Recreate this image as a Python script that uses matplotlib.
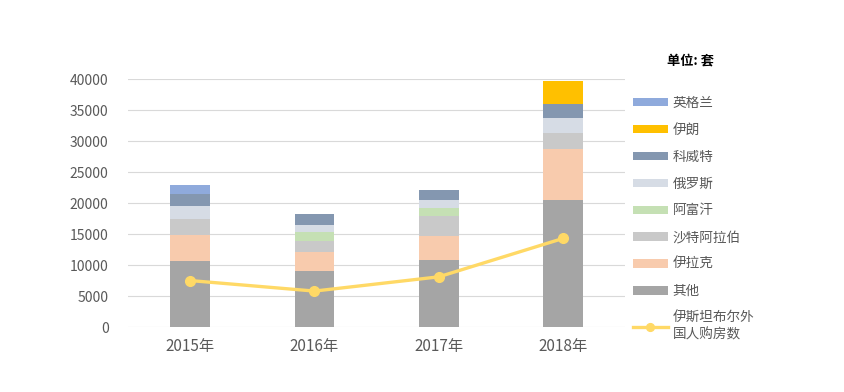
import matplotlib
matplotlib.use("Agg")
import matplotlib.pyplot as plt
import numpy as np

plt.rcParams['font.family'] = ['Noto Sans CJK SC', 'DejaVu Sans']

years = ["2015年", "2016年", "2017年", "2018年"]
other = [10700, 9000, 10800, 20500]
iraq = [4100, 3150, 3900, 8300]
saudi = [2700, 1800, 3250, 2600]
afghan = [0, 1350, 1250, 0]
russia = [2050, 1200, 1300, 2400]
kuwait = [2000, 1750, 1700, 2150]
iran = [0, 0, 0, 3750]
england = [1350, 0, 0, 0]
total_foreign = [7500, 5800, 8100, 14300]

series = [
    ("其他", other, "#A5A5A5"),
    ("伊拉克", iraq, "#F8CBAD"),
    ("沙特阿拉伯", saudi, "#C9C9C9"),
    ("阿富汗", afghan, "#C5E0B4"),
    ("俄罗斯", russia, "#D6DCE5"),
    ("科威特", kuwait, "#8497B0"),
    ("伊朗", iran, "#FFC000"),
    ("英格兰", england, "#8FAADC"),
]

fig = plt.figure(figsize=(8.44, 3.92), dpi=100)
ax = fig.add_axes([0.1517, 0.1658, 0.589, 0.632])

x = np.arange(len(years))
bottom = np.zeros(len(years))
handles = {}
for name, vals, col in series:
    b = ax.bar(x, vals, width=0.32, bottom=bottom, color=col, label=name, zorder=2)
    handles[name] = b
    bottom += np.array(vals)

ln, = ax.plot(x, total_foreign, color="#FFD966", lw=2.4, marker="o", markersize=7,
              label="伊斯坦布尔外\n国人购房数", zorder=3)

ax.set_ylim(0, 40000)
ax.set_xlim(-0.5, 3.5)
ax.set_yticks(np.arange(0, 40001, 5000))
ax.yaxis.grid(True, color="#D9D9D9", lw=0.8, zorder=0)
ax.set_axisbelow(True)
for s in ax.spines.values():
    s.set_visible(False)
ax.tick_params(axis='both', length=0, colors="#595959")
ax.tick_params(axis='y', labelsize=10, pad=14)
ax.tick_params(axis='x', labelsize=11, pad=8)
ax.set_xticks(x)
ax.set_xticklabels(years)

order = ["英格兰", "伊朗", "科威特", "俄罗斯", "阿富汗", "沙特阿拉伯", "伊拉克", "其他"]
hs = [handles[n] for n in order] + [ln]
labels = order + ["伊斯坦布尔外\n国人购房数"]
leg = fig.legend(hs, labels, loc="upper left", bbox_to_anchor=(0.735, 0.787),
                 frameon=False, fontsize=9.8, labelspacing=0.95, handlelength=2.6,
                 handleheight=0.55, handletextpad=0.35, labelcolor="#595959",
                 markerscale=0.8)

fig.text(0.79, 0.835, "单位: 套", fontsize=9.5, fontweight="bold", color="black")

fig.savefig("out.png", dpi=100)
